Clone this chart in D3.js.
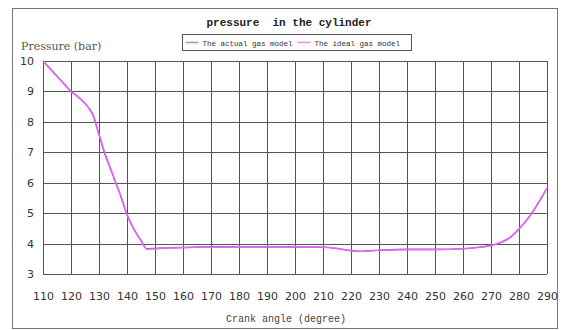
<!DOCTYPE html>
<html>
<head>
<meta charset="utf-8">
<script src="https://cdn.jsdelivr.net/npm/d3@7"></script>
<style>
  body { margin: 0; background: #fff; }
  svg { display: block; }
</style>
</head>
<body>
<svg id="chart" width="563" height="330"></svg>
<script>
// crank angle (degree) samples
const angles = [110, 112, 115, 118, 120, 122, 124, 126, 128, 130, 132, 135, 138, 140, 142, 145, 147, 150, 155, 160, 170, 180, 190, 200, 210, 215, 220, 223, 226, 230, 240, 250, 260, 265, 270, 273, 276, 280, 283, 286, 290];
// pressure (bar)
const idealPressure = [10, 9.8, 9.5, 9.2, 9.0, 8.86, 8.7, 8.5, 8.2, 7.6, 7.0, 6.25, 5.5, 4.95, 4.55, 4.1, 3.82, 3.83, 3.86, 3.87, 3.88, 3.89, 3.89, 3.89, 3.88, 3.84, 3.76, 3.74, 3.75, 3.78, 3.8, 3.8, 3.83, 3.87, 3.94, 4.02, 4.15, 4.48, 4.8, 5.2, 5.82];
const actualPressure = [10, 9.8, 9.5, 9.2, 9.0, 8.86, 8.7, 8.5, 8.19, 7.58, 6.98, 6.24, 5.5, 4.96, 4.56, 4.1, 3.83, 3.84, 3.86, 3.87, 3.89, 3.89, 3.89, 3.89, 3.88, 3.84, 3.77, 3.75, 3.76, 3.78, 3.81, 3.81, 3.83, 3.87, 3.94, 4.02, 4.15, 4.48, 4.8, 5.2, 5.82];
const xTicks = d3.range(110, 291, 10);
const yTicks = d3.range(3, 11, 1);

const seriesNames = ["The actual gas model", "The ideal gas model"];
const seriesColors = ["#7b68c8", "#ff5cff"];

const svg = d3.select("#chart");
const margin = { top: 61, right: 16, bottom: 56, left: 43 };
const width = 563 - margin.left - margin.right;
const height = 330 - margin.top - margin.bottom;

// outer frame
svg.append("rect")
  .attr("x", 12.5).attr("y", 8.5)
  .attr("width", 545).attr("height", 320)
  .attr("fill", "none").attr("stroke", "#777").attr("stroke-width", 1);

svg.append("text")
  .attr("x", 289).attr("y", 26)
  .attr("text-anchor", "middle")
  .style("font-family", "'Liberation Mono', monospace")
  .style("font-weight", "bold")
  .style("font-size", "11px")
  .attr("fill", "#222")
  .attr("xml:space", "preserve")
  .text("pressure  in the cylinder");

const g = svg.append("g").attr("transform", `translate(${margin.left},${margin.top})`);

const x = d3.scaleLinear().domain([110, 290]).range([0, width]);
const y = d3.scaleLinear().domain([3, 10]).range([height, 0]);

// grid
g.selectAll(".vgrid").data(xTicks).enter().append("line")
  .attr("x1", d => Math.round(x(d)) + 0.5).attr("x2", d => Math.round(x(d)) + 0.5)
  .attr("y1", 0).attr("y2", height)
  .attr("stroke", "#555").attr("stroke-width", 1);
g.selectAll(".hgrid").data(yTicks).enter().append("line")
  .attr("y1", d => Math.round(y(d)) + 0.5).attr("y2", d => Math.round(y(d)) + 0.5)
  .attr("x1", 0).attr("x2", width)
  .attr("stroke", "#555").attr("stroke-width", 1);

// axes labels via d3 axes (no domain/ticks lines)
const xAxis = g.append("g").attr("transform", `translate(0,${height})`)
  .call(d3.axisBottom(x).tickValues(xTicks).tickSize(0).tickPadding(18).tickFormat(d3.format("d")));
const yAxis = g.append("g")
  .call(d3.axisLeft(y).tickValues(yTicks).tickSize(0).tickPadding(9).tickFormat(d3.format("d")));
[xAxis, yAxis].forEach(a => {
  a.select(".domain").remove();
  a.selectAll("text")
    .style("font-family", "'DejaVu Sans', sans-serif")
    .style("font-size", "11px")
    .attr("fill", "#333");
});

// lines
const line = d3.line()
  .x((d, i) => x(angles[i]))
  .y(d => y(d))
  .curve(d3.curveMonotoneX);

[actualPressure, idealPressure].forEach((vals, i) => {
  g.append("path")
    .datum(vals)
    .attr("d", line)
    .attr("fill", "none")
    .attr("stroke", seriesColors[i])
    .attr("stroke-width", i === 0 ? 1.6 : 1.2);
});

// axis titles
svg.append("text")
  .attr("x", 21).attr("y", 50)
  .style("font-family", "'DejaVu Serif', serif")
  .style("font-size", "11px")
  .attr("fill", "#555")
  .text("Pressure (bar)");

svg.append("text")
  .attr("x", 286).attr("y", 322)
  .attr("text-anchor", "middle")
  .style("font-family", "'Liberation Mono', monospace")
  .style("font-size", "10px")
  .attr("fill", "#444")
  .text("Crank angle (degree)");

// legend
const legend = svg.append("g").attr("transform", "translate(182.5,34.5)");
legend.append("rect")
  .attr("width", 229).attr("height", 16)
  .attr("fill", "#fff").attr("stroke", "#555").attr("stroke-width", 1);
const legendX = [3, 115];
seriesNames.forEach((name, i) => {
  const item = legend.append("g").attr("transform", `translate(${legendX[i]},8)`);
  item.append("line")
    .attr("x1", 0).attr("x2", 13)
    .attr("stroke", i === 0 ? "#9a9ad0" : "#ff80ff").attr("stroke-width", 1.5);
  item.append("text")
    .attr("x", 17).attr("y", 3)
    .style("font-family", "'Liberation Mono', monospace")
    .style("font-size", "7.5px")
    .attr("fill", "#333")
    .text(name);
});
</script>
</body>
</html>
